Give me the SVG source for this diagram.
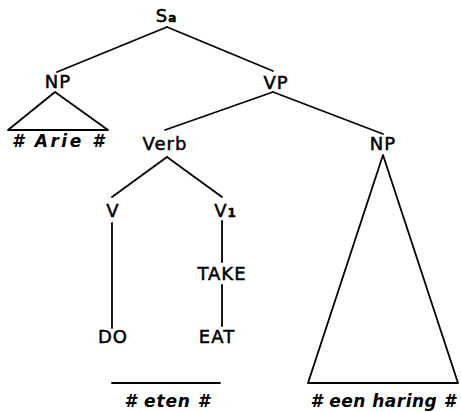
<svg xmlns="http://www.w3.org/2000/svg" width="461" height="412" viewBox="0 0 461 412">
<style>
.lbl{font-family:"DejaVu Sans","Liberation Sans",sans-serif;font-size:18px;letter-spacing:1px;fill:#000;stroke:#000;stroke-width:0.5;text-anchor:middle}
.sub{font-size:12px;letter-spacing:0}
.leaf{font-family:"DejaVu Sans","Liberation Sans",sans-serif;font-size:17px;font-weight:bold;font-style:italic;fill:#000;text-anchor:middle}
.ln{stroke:#000;stroke-width:1.8;fill:none;stroke-linecap:round;stroke-linejoin:round}
</style>
<rect width="461" height="412" fill="#fff"/>
<g id="connectors" class="ln">
<path d="M167,27 L57,72"/>
<path d="M167,27 L273,71"/>
<path d="M273,92 L165,130"/>
<path d="M273,92 L383,134"/>
<path d="M167,157 L112,197"/>
<path d="M167,157 L222,197"/>
<path d="M112,223 L112,328"/>
<path d="M222,221 L222,262"/>
<path d="M222,285 L222,326"/>
</g>
<g id="Sa"><text class="lbl" x="166" y="22">S<tspan class="sub" font-weight="bold">a</tspan></text></g>
<g id="NP1"><text class="lbl" x="58" y="88">NP</text>
<path class="ln" d="M55,92 L8,130 L108,130 Z"/>
<text class="leaf" x="58" y="147" textLength="92" lengthAdjust="spacing"># Arie #</text></g>
<g id="VP"><text class="lbl" x="276" y="89">VP</text></g>
<g id="Verb"><text class="lbl" x="165" y="150">Verb</text></g>
<g id="NP2"><text class="lbl" x="383" y="150">NP</text>
<path class="ln" d="M383,155 L308,383 L458,383 Z"/>
<text class="leaf" x="383" y="407" textLength="145" lengthAdjust="spacing"># een haring #</text></g>
<g id="V"><text class="lbl" x="113" y="217">V</text></g>
<g id="V1"><text class="lbl" x="225" y="217">V<tspan class="sub" font-weight="bold">1</tspan></text></g>
<g id="TAKE"><text class="lbl" x="222" y="280">TAKE</text></g>
<g id="DO"><text class="lbl" x="113" y="343">DO</text></g>
<g id="EAT"><text class="lbl" x="217" y="343">EAT</text></g>
<g id="eten"><path class="ln" d="M112,383 L220,383"/>
<text class="leaf" x="167" y="407" textLength="85" lengthAdjust="spacing"># eten #</text></g>
</svg>
